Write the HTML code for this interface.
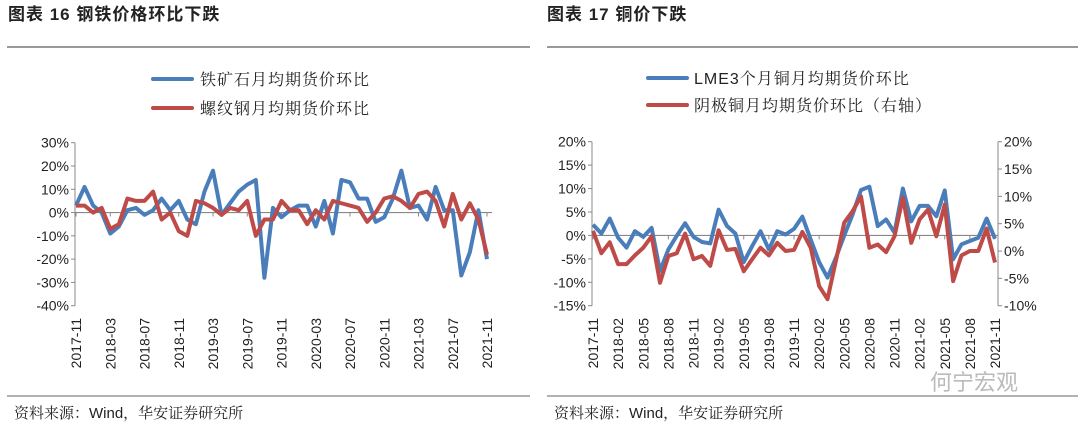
<!DOCTYPE html>
<html><head><meta charset="utf-8">
<style>
body{margin:0;background:#fff;width:1080px;height:431px;overflow:hidden;font-family:"Liberation Sans","Noto Sans CJK SC",sans-serif;}
svg text{font-family:"Liberation Sans","Noto Sans CJK SC",sans-serif;}
svg text.serif{font-family:"Liberation Sans","Noto Serif CJK SC",serif;}
</style></head>
<body>
<svg id="s" width="1080" height="431" xmlns="http://www.w3.org/2000/svg">
<text x="8" y="20" font-size="17" font-weight="bold" fill="#222" letter-spacing="1">图表 16  钢铁价格环比下跌</text>
<text x="547" y="20" font-size="17" font-weight="bold" fill="#222" letter-spacing="1">图表 17  铜价下跌</text>
<line x1="7" y1="47" x2="530" y2="47" stroke="#999" stroke-width="2"/>
<line x1="547" y1="47" x2="1078" y2="47" stroke="#999" stroke-width="2"/>
<line x1="7" y1="396" x2="530" y2="396" stroke="#999" stroke-width="1.5"/>
<line x1="547" y1="396" x2="1078" y2="396" stroke="#999" stroke-width="1.5"/>
<text class="serif" x="14" y="418" font-size="15" fill="#222">资料来源：Wind，华安证券研究所</text>
<text class="serif" x="554" y="418" font-size="15" fill="#222">资料来源：Wind，华安证券研究所</text>
<text x="930" y="390" font-size="22" fill="#bbb">何宁宏观</text>
<g>
<line x1="153" y1="79" x2="192" y2="79" stroke="#4a7ebb" stroke-width="4" stroke-linecap="round"/>
<text class="serif" x="200" y="85" font-size="16" fill="#222" letter-spacing="1">铁矿石月均期货价环比</text>
<line x1="153" y1="108" x2="192" y2="108" stroke="#be4b48" stroke-width="4" stroke-linecap="round"/>
<text class="serif" x="200" y="114" font-size="16" fill="#222" letter-spacing="1">螺纹钢月均期货价环比</text>
</g>
<g>
<line x1="648" y1="78" x2="687" y2="78" stroke="#4a7ebb" stroke-width="4" stroke-linecap="round"/>
<text class="serif" x="694" y="84" font-size="16" fill="#222" letter-spacing="1">LME3个月铜月均期货价环比</text>
<line x1="648" y1="105" x2="687" y2="105" stroke="#be4b48" stroke-width="4" stroke-linecap="round"/>
<text class="serif" x="694" y="111" font-size="16" fill="#222" letter-spacing="1">阴极铜月均期货价环比（右轴）</text>
</g>
</svg>
<script>
const ironOre=[3,11,3,0,-9,-6,1,2,-1,1,6,1,5,-3,-5,9,18,-1,4,9,12,14,-28,2,-2,1,3,3,-6,5,-9,14,13,6,6,-4,-2,6,18,2,3,-3,11,1,1,-27,-17,1,-20];
const rebar=[3,3,0,2,-7,-5,6,5,5,9,-3,0,-8,-10,5,4,2,-1,2,1,5,-10,-3,-3,5,1,1,-5,1,-3,5,4,3,2,-4,0,6,7,5,2,8,9,5,-6,8,-3,4,-3,-18];
const leftTicks=[30,20,10,0,-10,-20,-30,-40];
const leftCats=["2017-11","2018-03","2018-07","2018-11","2019-03","2019-07","2019-11","2020-03","2020-07","2020-11","2021-03","2021-07","2021-11"];
const lme=[2.3,0.4,3.6,-0.5,-2.6,0.9,-0.3,1.6,-7.6,-3,-0.1,2.6,-0.3,-1.4,-1.7,5.5,2,0.4,-5.7,-2.3,0.9,-3,0.9,0.2,1.4,4,-0.9,-5.7,-9,-4.8,0,4.5,9.7,10.4,2,3.4,0.6,10,3,6.3,6.3,4.1,9.6,-5.1,-1.9,-1.2,-0.5,3.6,-0.7];
const cathode=[3.7,-0.4,1.6,-2.4,-2.4,-0.8,0.6,2.7,-5.8,-0.9,-0.4,3.2,-1.5,-0.9,-2.7,3.8,0.2,0.4,-3.7,-1.5,0.6,-0.8,1.5,0,0.2,3.5,0.6,-6.4,-8.8,-1.8,5.2,7.3,10,0.6,1.2,-0.2,2.7,9.8,1.5,5.8,7.6,2.7,8.5,-5.5,-0.8,0,0,4.1,-2.1];
const rightLTicks=[20,15,10,5,0,-5,-10,-15];
const rightRTicks=[20,15,10,5,0,-5,-10];
const rightCats=["2017-11","2018-02","2018-05","2018-08","2018-11","2019-02","2019-05","2019-08","2019-11","2020-02","2020-05","2020-08","2020-11","2021-02","2021-05","2021-08","2021-11"];

const S=document.getElementById('s');const NS='http://www.w3.org/2000/svg';
function el(t,a,p){const e=document.createElementNS(NS,t);for(const k in a)e.setAttribute(k,a[k]);(p||S).appendChild(e);return e;}
function chart(o){
  const g=el('g',{});
  
  
  const n=o.s1.length;
  const xs=i=>o.x0+(o.x1-o.x0)*i/(n-1);
  const yl=v=>o.yTop+(o.lmax-v)/(o.lmax-o.lmin)*(o.yBot-o.yTop);
  const yr=v=>o.yTop+(o.rmax-v)/(o.rmax-o.rmin)*(o.yBot-o.yTop);
  const ax=el('line',{x1:o.ax,y1:o.yTop,x2:o.ax,y2:o.yBot,stroke:'#888','stroke-width':1},g);
  
  
  o.lt.forEach(v=>{const y=yl(v);
    el('line',{x1:o.ax-4,y1:y,x2:o.ax,y2:y,stroke:'#888'},g);
    const t=el('text',{x:o.ax-6,y:y+5,'font-size':14,'text-anchor':'end',fill:'#222'},g);
    t.textContent=v+'%';
    
    });
  if(o.rt){
    const rx=el('line',{x1:o.rax,y1:o.yTop,x2:o.rax,y2:o.yBot,stroke:'#888','stroke-width':1},g);
    
    
    o.rt.forEach(v=>{const y=yr(v);
      el('line',{x1:o.rax,y1:y,x2:o.rax+4,y2:y,stroke:'#888'},g);
      const t=el('text',{x:o.rax+6,y:y+5,'font-size':14,fill:'#222'},g);
      t.textContent=v+'%';
      
      });
  }
  const z=yl(0);
  const zl=el('line',{x1:o.ax,y1:z,x2:o.zx2,y2:z,stroke:'#888','stroke-width':1.2},g);
  
  
  for(let i=0;i<n;i+=o.step){el('line',{x1:xs(i),y1:z,x2:xs(i),y2:z+4,stroke:'#888'},g);}
  o.cats.forEach((c,k)=>{const x=xs(k*o.step);
    const t=el('text',{x:0,y:0,'font-size':14,'text-anchor':'end',fill:'#222',transform:`translate(${x+5},${o.labY}) rotate(-90)`},g);
    t.textContent=c;
    
    });
  const p1=el('polyline',{points:o.s1.map((v,i)=>xs(i)+','+yl(v)).join(' '),fill:'none',stroke:'#4a7ebb','stroke-width':4,'stroke-linejoin':'round'},g);
  
  
  const f2=o.rt?yr:yl;
  const p2=el('polyline',{points:o.s2.map((v,i)=>xs(i)+','+f2(v)).join(' '),fill:'none',stroke:'#be4b48','stroke-width':4,'stroke-linejoin':'round'},g);
  
  
}
chart({name:'steel-chart',s1:ironOre,s2:rebar,x0:76,x1:487,ax:75,zx2:492,yTop:142.7,yBot:305.7,lmax:30,lmin:-40,lt:leftTicks,cats:leftCats,step:4,labY:318,n1:'iron-ore-line',n2:'rebar-line'});
chart({name:'copper-chart',s1:lme,s2:cathode,x0:593,x1:995,ax:592,rax:998,zx2:998,yTop:141.7,yBot:305.7,lmax:20,lmin:-15,rmax:20,rmin:-10,lt:rightLTicks,rt:rightRTicks,cats:rightCats,step:3,labY:318,n1:'lme-copper-line',n2:'cathode-copper-line'});
</script>
</body></html>
